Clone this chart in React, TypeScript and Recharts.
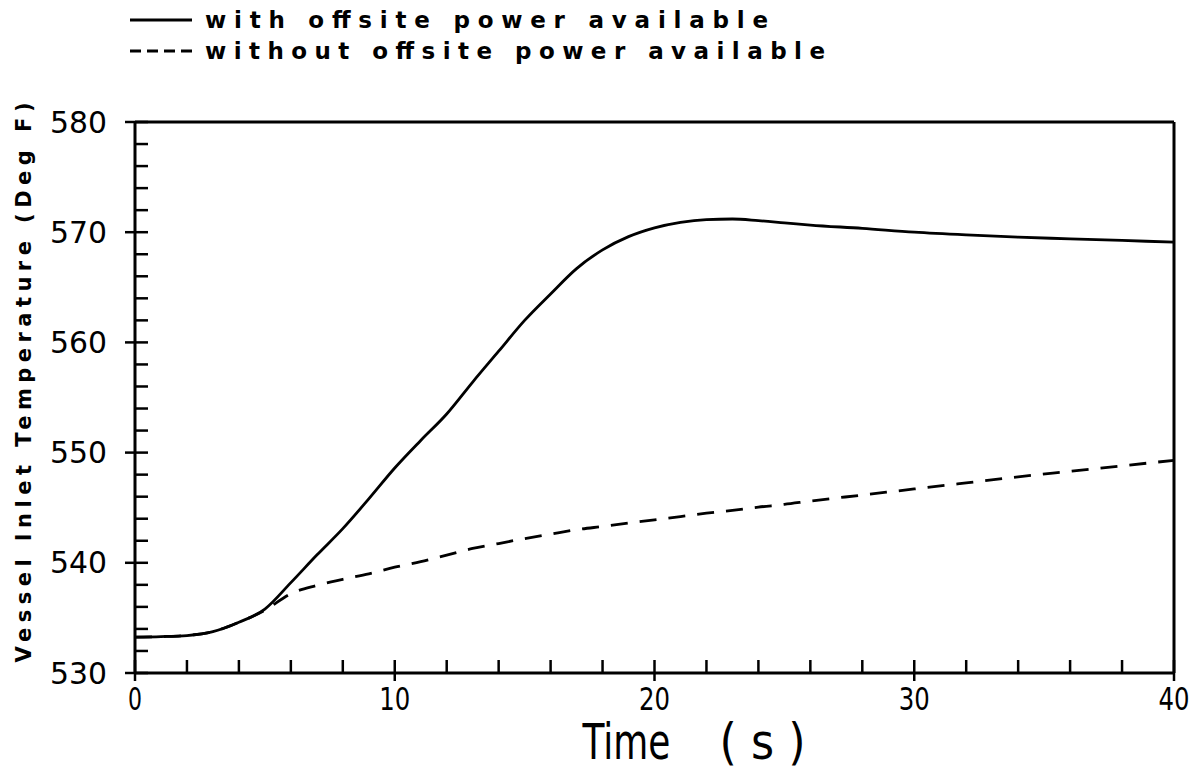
import { LineChart, Line, XAxis, YAxis, ReferenceLine, Legend, Label } from "recharts";

// time (s)
const timeS = [0, 1, 2, 3, 4, 5, 6, 7, 8, 9, 10, 11, 12, 13, 14, 15, 16, 17, 18, 19, 20, 21, 22, 23, 24, 25, 26, 28, 30, 32, 34, 36, 38, 40];
// vessel inlet temperature (deg F)
const withOffsite = [533.25, 533.3, 533.4, 533.75, 534.6, 535.8, 538.2, 540.7, 543.1, 545.8, 548.6, 551.1, 553.5, 556.4, 559.2, 562.0, 564.4, 566.7, 568.4, 569.6, 570.4, 570.9, 571.15, 571.2, 571.05, 570.85, 570.65, 570.35, 570.0, 569.75, 569.55, 569.4, 569.25, 569.1];
const withoutOffsite = [533.25, 533.3, 533.4, 533.75, 534.6, 535.7, 537.2, 537.95, 538.5, 539.0, 539.6, 540.1, 540.7, 541.3, 541.75, 542.2, 542.6, 543.0, 543.3, 543.6, 543.9, 544.2, 544.5, 544.75, 545.05, 545.3, 545.6, 546.15, 546.7, 547.25, 547.8, 548.3, 548.8, 549.3];

const xTicks = [0, 2, 4, 6, 8, 10, 12, 14, 16, 18, 20, 22, 24, 26, 28, 30, 32, 34, 36, 38, 40];
const yTicks = [530, 532, 534, 536, 538, 540, 542, 544, 546, 548, 550, 552, 554, 556, 558, 560, 562, 564, 566, 568, 570, 572, 574, 576, 578, 580];

const seriesNames = ["with offsite power available", "without offsite power available"];

const FONT = "'DejaVu Sans', sans-serif";

const data = timeS.map((t, i) => ({ t, on: withOffsite[i], off: withoutOffsite[i] }));

function YTick({ x, y, payload }: any) {
  const v = payload.value;
  const major = v % 10 === 0;
  return (
    <g>
      <line x1={major ? x - 10 : x} x2={x + 13} y1={y} y2={y} stroke="#000" strokeWidth={2.5} />
      {major && (
        <text x={x - 28} y={y} textAnchor="end" dominantBaseline="central" fontSize={30} fontFamily={FONT}
          textLength={57} lengthAdjust="spacingAndGlyphs" fill="#000">
          {v}
        </text>
      )}
    </g>
  );
}

function XTick({ x, y, payload }: any) {
  const v = payload.value;
  const major = v % 10 === 0;
  return (
    <g>
      <line x1={x} x2={x} y1={y - 13} y2={major ? y + 8 : y} stroke="#000" strokeWidth={2.5} />
      {major && (
        <text x={x} y={y + 37} textAnchor="middle" fontSize={32} fontFamily={FONT}
          textLength={v < 10 ? 14 : 31} lengthAdjust="spacingAndGlyphs" fill="#000">
          {v}
        </text>
      )}
    </g>
  );
}

function XLabel({ viewBox }: any) {
  const cx = viewBox.x + viewBox.width / 2;
  const by = viewBox.y + 86;
  return (
    <g fontFamily={FONT} fontSize={50} fill="#000">
      <text x={cx - 28} y={by} textAnchor="middle" textLength={88} lengthAdjust="spacingAndGlyphs">Time</text>
      <text x={cx + 108} y={by} textAnchor="middle" textLength={86} lengthAdjust="spacingAndGlyphs">( s )</text>
    </g>
  );
}

function YLabel({ viewBox }: any) {
  const cy = viewBox.y + viewBox.height / 2 - 15;
  const cx = 24;
  return (
    <text x={cx} y={cy} transform={`rotate(-90 ${cx} ${cy})`} textAnchor="middle" dominantBaseline="central"
      fontFamily={FONT} fontWeight="bold" fontSize={21} textLength={560} lengthAdjust="spacing" fill="#000">
      Vessel Inlet Temperature (Deg F)
    </text>
  );
}

function LegendBox() {
  return (
    <svg width={900} height={70}>
      <line x1={130} x2={192} y1={20} y2={20} stroke="#000" strokeWidth={3} />
      <text x={205} y={28} fontFamily={FONT} fontWeight="bold" fontSize={23} textLength={563} lengthAdjust="spacing">
        {seriesNames[0]}
      </text>
      <line x1={130} x2={192} y1={51} y2={51} stroke="#000" strokeWidth={3} strokeDasharray="11 6" />
      <text x={205} y={59} fontFamily={FONT} fontWeight="bold" fontSize={23} textLength={620} lengthAdjust="spacing">
        {seriesNames[1]}
      </text>
    </svg>
  );
}

export default function App() {
  return (
    <div style={{ position: "absolute", left: 0, top: 0, background: "#fff" }}>
      <LineChart width={1200} height={774} data={data} margin={{ top: 122, right: 26, bottom: 0, left: 0 }}>
        <XAxis dataKey="t" type="number" domain={[0, 40]} ticks={xTicks} interval={0} height={101}
          tickSize={0} tickMargin={0} tickLine={false} tick={<XTick />}
          axisLine={{ stroke: "#000", strokeWidth: 3 }}>
          <Label content={<XLabel />} />
        </XAxis>
        <YAxis type="number" domain={[530, 580]} ticks={yTicks} interval={0} width={135}
          tickSize={0} tickMargin={0} tickLine={false} tick={<YTick />}
          axisLine={{ stroke: "#000", strokeWidth: 3 }}>
          <Label content={<YLabel />} />
        </YAxis>
        <ReferenceLine y={580} stroke="#000" strokeWidth={3} />
        <ReferenceLine x={40} stroke="#000" strokeWidth={3} />
        <Legend verticalAlign="middle" align="center" layout="horizontal"
          wrapperStyle={{ position: "absolute", top: 0, left: 0, width: 900, height: 70 }}
          content={() => <LegendBox />} />
        <Line type="monotone" dataKey="on" name={seriesNames[0]} stroke="#000" strokeWidth={2.8} dot={false} isAnimationActive={false} />
        <Line type="monotone" dataKey="off" name={seriesNames[1]} stroke="#000" strokeWidth={2.8} dot={false}
          strokeDasharray="17 12" isAnimationActive={false} />
      </LineChart>
    </div>
  );
}
